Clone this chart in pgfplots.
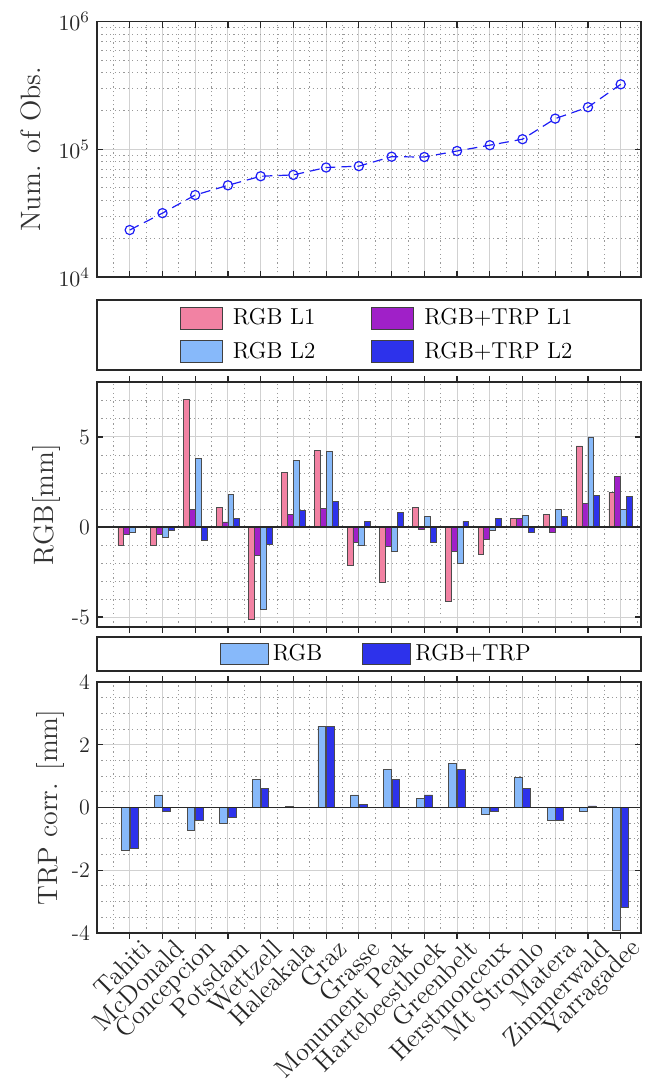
\documentclass[border=0pt]{standalone}
\usepackage{pgfplots}
\pgfplotsset{compat=1.18}
\usepackage{pgfplotstable}

\definecolor{pinkc}{RGB}{242,130,163}
\definecolor{purplec}{RGB}{160,32,200}
\definecolor{lbluec}{RGB}{135,185,250}
\definecolor{dbluec}{RGB}{45,50,235}
\definecolor{axc}{RGB}{40,40,40}

\pgfplotstableread{
x   obs
1   23300
2   31600
3   43800
4   52200
5   61500
6   63000
7   72000
8   73800
9   87500
10  87000
11  97000
12  107700
13  120000
14  174000
15  213700
16  323000
}\obstable

\pgfplotstableread{
x  L1     TL1    L2     TL2
1  -1.03  -0.40  -0.28  -0.02
2  -1.03  -0.40  -0.57  -0.17
3   7.07   1.00   3.80  -0.72
4   1.10   0.28   1.80   0.50
5  -5.12  -1.59  -4.55  -0.94
6   3.04   0.70   3.70   0.92
7   4.24   1.05   4.19   1.40
8  -2.14  -0.85  -1.03   0.31
9  -3.08  -1.10  -1.33   0.81
10  1.10  -0.13   0.59  -0.83
11 -4.13  -1.38  -2.03   0.31
12 -1.53  -0.70  -0.20   0.50
13  0.50   0.50   0.65  -0.31
14  0.70  -0.31   0.96   0.61
15  4.50   1.29   5.00   1.75
16  1.92   2.80   1.00   1.70
}\rgbtable

\pgfplotstableread{
x  RGB    RGBTRP
1  -1.37  -1.31
2   0.40  -0.12
3  -0.72  -0.41
4  -0.51  -0.32
5   0.90   0.60
6   0.02   0.01
7   2.59   2.59
8   0.40   0.10
9   1.20   0.90
10  0.30   0.40
11  1.39   1.20
12 -0.21  -0.12
13  0.95   0.60
14 -0.42  -0.42
15 -0.12   0.05
16 -3.93  -3.20
}\trptable

\pgfplotsset{
  panel/.style={
    scale only axis, width=272pt, anchor=north west,
    xmin=0, xmax=16.62,
    xtick={1,...,16}, minor xtick={0.5,1.5,...,16.5},
    grid=both,
    major grid style={black!18, line width=0.5pt},
    minor grid style={black!40, line width=0.45pt, dash pattern=on 0.6pt off 1.6pt},
    axis line style={axc, line width=0.7pt},
    tick style={axc, line width=0.6pt},
    major tick length=3pt, minor tick length=0pt,
    tick align=inside,
    tick label style={font=\fontsize{11}{13}\selectfont, text=black!85},
    ylabel style={font=\fontsize{14}{16}\selectfont, text=black!80, anchor=center},
    legend cell align=left,
  },
  barleg/.style={legend image code/.code={\draw[##1, draw=black!75, line width=0.5pt] (0pt,-5.5pt) rectangle (21pt,5.5pt);}},
  barlegw/.style={legend image code/.code={\draw[##1, draw=black!75, line width=0.5pt] (0pt,-5.3pt) rectangle (24pt,5.3pt);}},
}

\begin{document}
\begin{tikzpicture}
\path[use as bounding box] (0,0) rectangle (322pt,-541pt);

% ---------- top panel ----------
\begin{axis}[panel,
  at={(48.5pt,-10.85pt)}, height=127.6pt,
  ymode=log, ymin=1e4, ymax=1e6, ytick={1e4,1e5,1e6},
  xticklabels={},
  ylabel={Num. of Obs.},
  ylabel style={at={(axis description cs:-0.121,0.5)}},
]
\addplot[color={rgb,255:red,30;green,30;blue,245}, line width=0.6pt, dash pattern=on 5pt off 3pt,
  mark=o, mark size=2.3pt, mark options={solid, line width=0.6pt}]
  table[x=x, y=obs] {\obstable};
\end{axis}

% ---------- legend frames ----------
\draw[axc, line width=0.7pt] (48.5pt,-150pt) rectangle (320.5pt,-185pt);
\draw[axc, line width=0.7pt] (48.5pt,-318.5pt) rectangle (320.5pt,-335.5pt);

% ---------- middle panel ----------
\begin{axis}[panel,
  at={(48.5pt,-191pt)}, height=122.5pt,
  ymin=-5.55, ymax=8.05, ytick={-5,0,5},
  yticklabels={\textrm{-5},0,5},
  minor ytick={-4,-3,-2,-1,1,2,3,4,6,7,8},
  xticklabels={},
  ylabel={RGB[mm]},
  ylabel style={at={(axis description cs:-0.092,0.5)}},
  ybar=0pt, bar width=0.18,
  legend columns=2,
  legend style={draw=none, fill=none, at={(0.517,1.192)}, anchor=center,
    font=\fontsize{11.5}{13}\selectfont, row sep=3pt,
    /tikz/every even column/.append style={column sep=26pt},
    /tikz/every odd column/.append style={column sep=3pt}},
]
\addplot[fill=pinkc, draw=black!70, line width=0.4pt, bar shift=-0.27, barleg] table[x=x, y=L1] {\rgbtable};
\addplot[fill=purplec, draw=black!70, line width=0.4pt, bar shift=-0.09, barleg] table[x=x, y=TL1] {\rgbtable};
\addplot[fill=lbluec, draw=black!70, line width=0.4pt, bar shift=0.09, barleg] table[x=x, y=L2] {\rgbtable};
\addplot[fill=dbluec, draw=black!70, line width=0.4pt, bar shift=0.27, barleg] table[x=x, y=TL2] {\rgbtable};
\legend{RGB L1, RGB+TRP L1, RGB L2, RGB+TRP L2}
\draw[axc, line width=0.6pt] (axis cs:0,0) -- (axis cs:16.62,0);
\end{axis}

% ---------- bottom panel ----------
\begin{axis}[panel,
  at={(48.5pt,-341pt)}, height=125.5pt,
  ymin=-4, ymax=4, ytick={-4,-2,0,2,4},
  yticklabels={\textrm{-4},\textrm{-2},0,2,4},
  minor ytick={-3.5,-3,-2.5,-1.5,-1,-0.5,0.5,1,1.5,2.5,3,3.5},
  xticklabels={Tahiti, McDonald, Concepcion, Potsdam, Wettzell, Haleakala, Graz, Grasse, Monument Peak, Hartebeesthoek, Greenbelt, Herstmonceux, Mt Stromlo, Matera, Zimmerwald, Yarragadee},
  xticklabel style={font=\fontsize{13}{15}\selectfont, text=black!85, rotate=45, anchor=east, inner sep=1pt, xshift=5pt, yshift=-7.8pt},
  ylabel={TRP corr. [mm]},
  ylabel style={at={(axis description cs:-0.086,0.5)}},
  ybar=0pt, bar width=0.24,
  legend columns=2,
  legend style={draw=none, fill=none, at={(0.515,1.112)}, anchor=center,
    font=\fontsize{11.5}{13}\selectfont,
    /tikz/every even column/.append style={column sep=18pt},
    /tikz/every odd column/.append style={column sep=0pt}},
]
\addplot[fill=lbluec, draw=black!70, line width=0.4pt, bar shift=-0.13, barlegw] table[x=x, y=RGB] {\trptable};
\addplot[fill=dbluec, draw=black!70, line width=0.4pt, bar shift=0.13, barlegw] table[x=x, y=RGBTRP] {\trptable};
\legend{RGB, RGB+TRP}
\draw[axc, line width=0.6pt] (axis cs:0,0) -- (axis cs:16.62,0);
\end{axis}
\end{tikzpicture}
\end{document}
